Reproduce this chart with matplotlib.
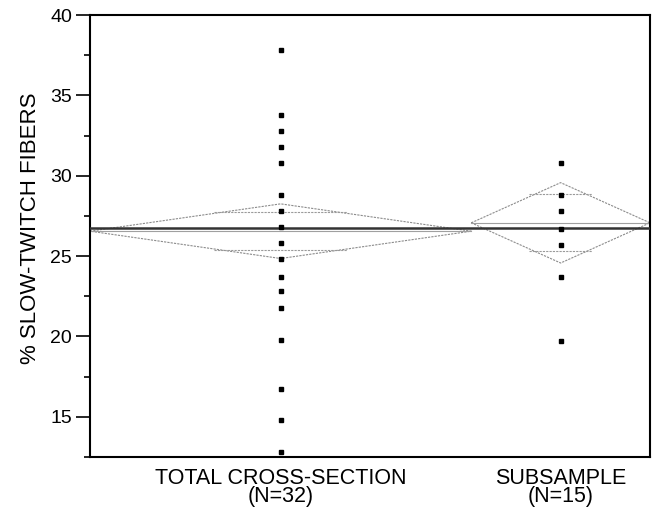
import matplotlib
matplotlib.use("Agg")
import matplotlib.pyplot as plt
from matplotlib.ticker import MultipleLocator

plt.rcParams['font.family'] = ['Liberation Sans', 'DejaVu Sans']

# ---- data ----
group_labels = ["TOTAL CROSS-SECTION\n(N=32)", "SUBSAMPLE\n(N=15)"]
group_n = [32, 15]
total_values = [37.8, 33.8, 32.8, 31.8, 30.8, 28.8, 27.8, 26.8, 25.8, 24.8,
                23.7, 22.8, 21.8, 19.8, 16.7, 14.8, 12.8]
subsample_values = [30.8, 28.8, 27.8, 26.7, 25.7, 23.7, 19.7]
group_means = [26.55, 27.07]
ci_half = [1.70, 2.50]
grand_mean = 26.75
y_ticks = [15, 20, 25, 30, 35, 40]

values = [total_values, subsample_values]

fig = plt.figure(figsize=(6.56, 5.13), dpi=100)
ax = fig.add_axes([90/656, 1-457/513, (650-90)/656, (457-15)/513])

left = 0
centers = []
diamond_col = '#8c8c8c'
for i, n in enumerate(group_n):
    right = left + n
    c = (left + right) / 2
    centers.append(c)
    m, h = group_means[i], ci_half[i]
    # means diamond
    ax.plot([left, c, right, c, left], [m, m + h, m, m - h, m],
            color=diamond_col, lw=0.8, ls=(0, (2, 1)), zorder=2)
    # group mean line
    ax.plot([left, right], [m, m], color='#a0a0a0', lw=0.8, zorder=2)
    # overlap marks
    ov = h / 2 ** 0.5
    hw = 0.35 * n / 2
    for s in (1, -1):
        ax.plot([c - hw, c + hw], [m + s * ov, m + s * ov],
                color='#9a9a9a', lw=0.8, ls=(0, (2, 1)), zorder=2)
    # points
    ax.plot([c] * len(values[i]), values[i], ls='none', marker='s',
            ms=3.2, mfc='black', mec='black', zorder=4)
    left = right

total_n = sum(group_n)
ax.plot([0, total_n], [grand_mean, grand_mean], color='#333333', lw=1.8, zorder=3)

ax.set_xlim(0, total_n)
ax.set_ylim(12.5, 40)
ax.set_xticks(centers)
ax.set_xticklabels(group_labels, fontsize=15.5, linespacing=0.78)
ax.tick_params(axis='x', length=0, pad=8)
ax.set_yticks(y_ticks)
ax.yaxis.set_minor_locator(MultipleLocator(2.5))
ax.tick_params(axis='y', which='major', direction='out', length=10, width=1.2,
               labelsize=14, pad=3)
ax.tick_params(axis='y', which='minor', direction='out', length=4, width=1.2)
for sp in ax.spines.values():
    sp.set_linewidth(1.5)
    sp.set_color('black')
ax.set_ylabel("% SLOW-TWITCH FIBERS", fontsize=16)
ax.yaxis.set_label_coords(-0.088, 0.518)

fig.savefig("out.png", dpi=100)
